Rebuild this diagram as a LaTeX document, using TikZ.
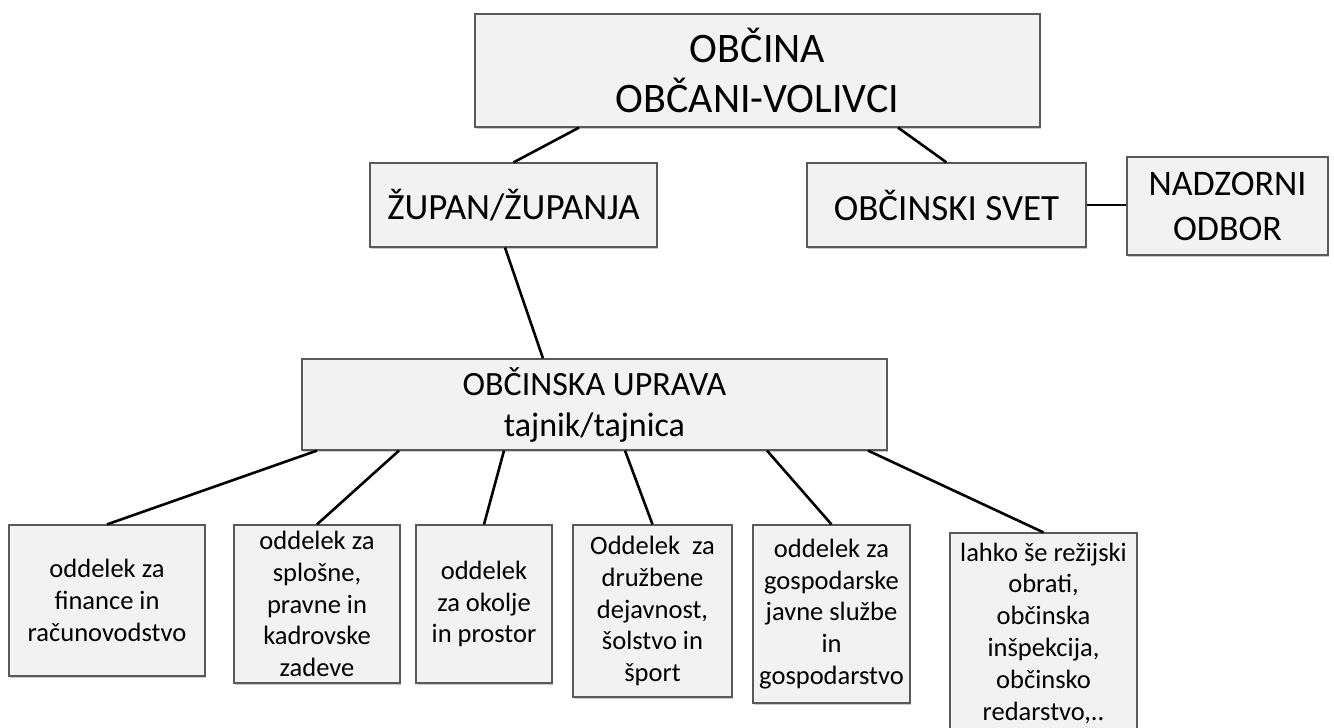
\documentclass[tikz,border=0pt]{standalone}
\usepackage{fontspec}
\setmainfont{Carlito}
\usepackage{tikz}
\usetikzlibrary{shadows}

\tikzset{
  orgbox/.style={draw=gray!70!black, fill=gray!10, line width=1.2pt, align=center,
    inner sep=0pt, drop shadow={shadow xshift=1.2pt, shadow yshift=-2pt, fill=gray!70, opacity=0.6}},
  link/.style={line width=2.6pt, black},
  big/.style={font=\fontsize{42}{50}\selectfont},
  mid/.style={font=\fontsize{37}{44}\selectfont},
  small/.style={font=\fontsize{26.5}{31.8}\selectfont}
}

\begin{document}
\begin{tikzpicture}[x=1pt, y=-1pt]
  \useasboundingbox (0,0) rectangle (1334,728);
  % vrh
  \node[orgbox, big, minimum width=565, minimum height=113] (obcina) at (757.5,70.5)
    {OBČINA\\OBČANI-VOLIVCI};
  % zupan, svet, odbor
  \node[orgbox, mid, minimum width=287, minimum height=84] (zupan) at (513.5,205) {ŽUPAN/ŽUPANJA};
  \node[orgbox, mid, minimum width=279, minimum height=84] (svet) at (946.5,205) {OBČINSKI SVET};
  \node[orgbox, font=\fontsize{36}{45}\selectfont, minimum width=201, minimum height=98] (odbor) at (1227.5,206)
    {NADZORNI\\ODBOR};
  % uprava
  \node[orgbox, font=\fontsize{34}{41}\selectfont, minimum width=585, minimum height=91] (uprava) at (594.5,404.5)
    {OBČINSKA UPRAVA\\tajnik/tajnica};
  % oddelki
  \node[orgbox, small, minimum width=196, minimum height=151] (odd1) at (107,600.5)
    {oddelek za\\finance in\\računovodstvo};
  \node[orgbox, small, minimum width=166, minimum height=158] (odd2) at (317,604)
    {oddelek za\\splošne,\\pravne in\\kadrovske\\zadeve};
  \node[orgbox, small, minimum width=136, minimum height=158] (odd3) at (484,604)
    {oddelek\\za okolje\\in prostor};
  \node[orgbox, small, minimum width=159, minimum height=172] (odd4) at (652.5,611)
    {Oddelek~~za\\družbene\\dejavnost,\\šolstvo in\\šport};
  \node[orgbox, small, minimum width=157, minimum height=178] (odd5) at (831.5,614)
    {oddelek za\\gospodarske\\javne službe\\in\\gospodarstvo};
  \node[orgbox, small, minimum width=187, minimum height=200] (odd6) at (1043.5,633)
    {lahko še režijski\\obrati,\\občinska\\inšpekcija,\\občinsko\\redarstvo,..};
  % povezave
  \draw[link] ([xshift=-178.5pt]obcina.south) -- (zupan.north);
  \draw[link] ([xshift=140.5pt]obcina.south) -- (svet.north);
  \draw[link] (svet.east) -- (svet.east -| odbor.west);
  \draw[link] ([xshift=-8.5pt]zupan.south) -- ([xshift=-51.5pt]uprava.north);
  \draw[link] ([xshift=-277.5pt]uprava.south) -- (odd1.north);
  \draw[link] ([xshift=-195.5pt]uprava.south) -- (odd2.north);
  \draw[link] ([xshift=-90.5pt]uprava.south) -- (odd3.north);
  \draw[link] ([xshift=30.5pt]uprava.south) -- (odd4.north);
  \draw[link] ([xshift=172.5pt]uprava.south) -- (odd5.north);
  \draw[link] ([xshift=273.5pt]uprava.south) -- (odd6.north);
\end{tikzpicture}
\end{document}
